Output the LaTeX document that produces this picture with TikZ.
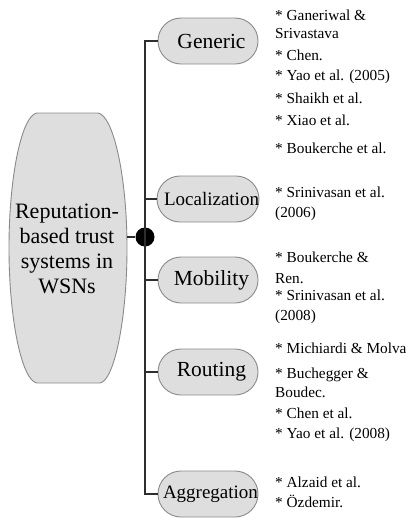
\documentclass[tikz,border=0pt]{standalone}
\usepackage{fontspec}
\setmainfont{Liberation Serif}
\definecolor{boxfill}{HTML}{DEDEDE}
\definecolor{boxline}{HTML}{8A8A8A}
\definecolor{trunkc}{HTML}{2E2E2E}
\tikzset{
  catbox/.style={draw=boxline, line width=0.9pt, fill=boxfill, rounded corners=23pt,
    minimum width=100pt, minimum height=46pt, inner sep=0pt, text=black,
    font=\fontsize{21.5}{24}\selectfont},
  smallcat/.style={font=\fontsize{19}{22}\selectfont},
  trunk/.style={draw=trunkc, line width=2.6pt},
  ref/.style={anchor=base west, inner sep=0pt, font=\fontsize{15.3}{18}\selectfont}
}
\begin{document}
\begin{tikzpicture}[x=1pt,y=-1pt]
\useasboundingbox (0,0) rectangle (411,522);
% main shape
\draw[draw=boxline, line width=0.9pt, fill=boxfill]
  (37,113) -- (98,113) .. controls (113,115) and (127,175) .. (127,248)
  .. controls (127,320) and (114,381) .. (100,383) -- (37,383)
  .. controls (22,381) and (9,320) .. (9,248)
  .. controls (9,175) and (22,115) .. (37,113) -- cycle;
\node[align=center, inner sep=0pt, font=\fontsize{22}{25}\selectfont] (main) at (67,249)
  {Reputation-\\based trust\\systems in\\WSNs};
\coordinate (mainR) at (127,237);
\node[circle, fill=black, inner sep=0pt, minimum size=19pt] (dot) at (145,237) {};
% categories
\node[catbox] (gen) at (208,41) {\hspace*{7pt}Generic};
\node[catbox, smallcat] (loc) at (208,199) {\hspace*{7pt}Localization};
\node[catbox] (mob) at (208,280) {\hspace*{7pt}Mobility};
\node[catbox] (rou) at (208,372) {\hspace*{7pt}Routing};
\node[catbox, smallcat] (agg) at (208,494) {\hspace*{5pt}Aggregation};
% connectors
\draw[trunk] (mainR) -- (dot);
\draw[trunk] (gen.west) -| (dot.center) |- (agg.west);
\draw[trunk] (loc.west) -- (loc.west -| dot.center);
\draw[trunk] (mob.west) -- (mob.west -| dot.center);
\draw[trunk] (rou.west) -- (rou.west -| dot.center);
% references
\node[ref] (r1) at (275,20) {* Ganeriwal \&};
\node[ref] (r2) at (275,38) {Srivastava};
\node[ref] (r3) at (275,60) {* Chen.};
\node[ref] (r4) at (275,80) {* Yao et al. (2005)};
\node[ref] (r5) at (275,103) {* Shaikh et al.};
\node[ref] (r6) at (275,125) {* Xiao et al.};
\node[ref] (r7) at (275,153) {* Boukerche et al.};
\node[ref] (r8) at (275,197) {* Srinivasan et al.};
\node[ref] (r9) at (275,217) {(2006)};
\node[ref] (r10) at (275,262) {* Boukerche \&};
\node[ref] (r11) at (275,283) {Ren.};
\node[ref] (r12) at (275,300) {* Srinivasan et al.};
\node[ref] (r13) at (275,320) {(2008)};
\node[ref] (r14) at (275,353) {* Michiardi \& Molva};
\node[ref] (r15) at (275,378) {* Buchegger \&};
\node[ref] (r16) at (275,397) {Boudec.};
\node[ref] (r17) at (275,418) {* Chen et al.};
\node[ref] (r18) at (275,438) {* Yao et al. (2008)};
\node[ref] (r19) at (275,487) {* Alzaid et al.};
\node[ref] (r20) at (275,507) {* Özdemir.};
\end{tikzpicture}
\end{document}
